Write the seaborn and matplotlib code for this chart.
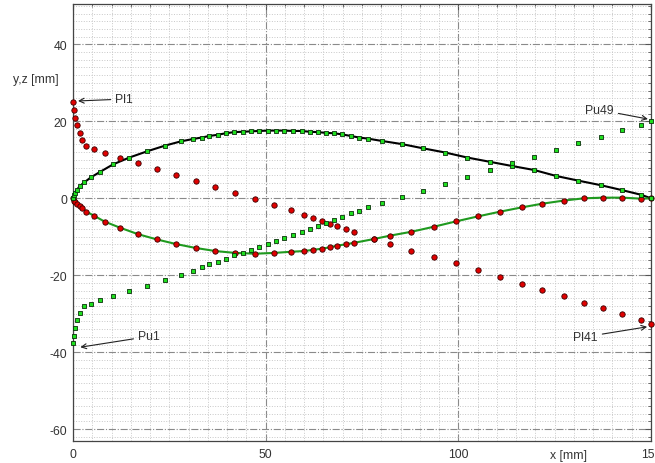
import matplotlib
matplotlib.use("Agg")
import matplotlib.pyplot as plt
import seaborn as sns
import pandas as pd
from matplotlib.ticker import MultipleLocator

# ---------------- data ----------------
pu_x = [0, 0.16, 0.5, 1.03, 1.72, 2.93, 4.66, 7.08, 10.37, 14.5, 19.2, 23.9, 28.0,
        31.1, 33.4, 35.4, 37.5, 39.6, 41.8, 44.1, 46.2, 48.3, 50.6, 52.7, 54.8,
        57.1, 59.3, 61.4, 63.5, 65.7, 67.8, 69.9, 72.1, 74.2, 76.6, 80.2, 85.3,
        90.8, 96.6, 102.3, 108.1, 113.9, 119.7, 125.4, 131.1, 137.0, 142.6, 147.5, 150.0]
pu_curve = [0, 0.86, 1.46, 2.24, 3.1, 4.15, 5.45, 6.9, 8.8, 10.55, 12.2, 13.7, 14.8,
            15.4, 15.8, 16.2, 16.5, 16.9, 17.2, 17.3, 17.4, 17.5, 17.6, 17.6, 17.6,
            17.5, 17.5, 17.3, 17.2, 17.0, 16.9, 16.6, 16.2, 15.8, 15.5, 14.9, 14.1,
            13.0, 11.9, 10.6, 9.5, 8.4, 7.35, 5.8, 4.6, 3.4, 2.1, 0.9, 0.0]
pu_shift = [-37.6, -35.7, -33.6, -31.6, -29.8, -27.9, -27.4, -26.5, -25.3, -24.1, -22.7,
            -21.3, -19.9, -18.9, -17.9, -17.2, -16.5, -15.7, -14.8, -14.1, -13.5, -12.65,
            -11.8, -11.0, -10.3, -9.45, -8.7, -7.9, -7.1, -6.35, -5.6, -4.8, -3.85, -3.3,
            -2.35, -1.2, 0.34, 2.0, 3.6, 5.45, 7.3, 9.1, 10.7, 12.5, 14.3, 16.0, 17.7,
            19.1, 20.0]

pl_x = [0, 0.25, 0.6, 1.05, 1.7, 2.4, 3.45, 5.4, 8.2, 12.1, 16.8, 21.8, 26.8, 31.8,
        36.9, 42.1, 47.3, 52.1, 56.5, 60.0, 62.3, 64.5, 66.6, 68.6, 70.8,
        72.8, 78.0, 82.3, 87.8, 93.6, 99.4, 105.1, 110.7,
        116.5, 121.8, 127.3, 132.6, 137.6, 142.6, 147.5, 150.0]
pl_curve = [0, -0.6, -1.0, -1.5, -2.0, -2.5, -3.45, -4.5, -6.05, -7.6, -9.3, -10.7, -11.9,
            -12.9, -13.7, -14.2, -14.4, -14.2, -13.9, -13.7, -13.4, -13.1, -12.75, -12.3,
            -11.95, -11.6, -10.6, -9.7, -8.7, -7.4, -6.0, -4.7, -3.5,
            -2.35, -1.4, -0.6, 0.0, 0.17, 0.17, -0.1, 0.0]
pl_shift = [24.9, 22.9, 20.9, 19.0, 17.1, 15.2, 13.6, 12.8, 11.85, 10.55, 9.2, 7.6, 6.05,
            4.6, 2.9, 1.3, -0.2, -1.8, -3.1, -4.3, -5.0, -5.8, -6.6, -7.3, -8.1,
            -8.8, -10.6, -11.95, -13.7, -15.3, -16.9, -18.7, -20.5,
            -22.3, -23.9, -25.5, -27.1, -28.6, -30.2, -31.6, -32.6]

labels = ["Pl1", "Pu1", "Pu49", "Pl41"]
x_ticks = [0, 50, 100, 150]
y_ticks = [-60, -40, -20, 0, 20, 40]

# ---------------- style ----------------
sns.set_style("white")
plt.rcParams["font.family"] = ["Liberation Sans", "DejaVu Sans"]
plt.rcParams["axes.unicode_minus"] = False

upper = pd.DataFrame({"x": pu_x, "y": pu_curve})
lower = pd.DataFrame({"x": pl_x, "y": pl_curve})
pu_df = pd.DataFrame({"x": pu_x + pu_x, "y": pu_curve + pu_shift})
pl_df = pd.DataFrame({"x": pl_x + pl_x, "y": pl_curve + pl_shift})

fig = plt.figure(figsize=(6.55, 4.64), dpi=100)
ax = fig.add_axes([73 / 655, 1 - 441.7 / 464, (651 - 73) / 655, (441.7 - 5) / 464])

sns.lineplot(data=upper, x="x", y="y", sort=False, estimator=None, color="black",
             linewidth=1.5, ax=ax, zorder=3)
sns.lineplot(data=lower, x="x", y="y", sort=False, estimator=None, color="#1f9a1f",
             linewidth=1.5, ax=ax, zorder=3)
sns.scatterplot(data=pl_df, x="x", y="y", marker="o", s=15, color="#e00000",
                edgecolor="#3a0000", linewidth=0.6, ax=ax, zorder=4, clip_on=False)
sns.scatterplot(data=pu_df, x="x", y="y", marker="s", s=12, color="#1fe01f",
                edgecolor="#0a300a", linewidth=0.6, ax=ax, zorder=5, clip_on=False)

ax.set_xlim(0, 150)
ax.set_ylim(-63, 50.5)
ax.set_xticks(x_ticks)
ax.set_yticks(y_ticks)
ax.xaxis.set_minor_locator(MultipleLocator(5))
ax.yaxis.set_minor_locator(MultipleLocator(2))
ax.set_xlabel("")
ax.set_ylabel("")

ax.grid(which="major", color="#8a8a8a", linestyle="-.", linewidth=0.8)
ax.grid(which="minor", color="#c8c8c8", linestyle=":", linewidth=0.7)
ax.set_axisbelow(True)

ax.tick_params(which="both", direction="in", top=True, right=True, colors="#555555",
               labelcolor="#333333", labelsize=8.8)
ax.tick_params(which="major", length=4, width=0.8)
ax.tick_params(which="minor", length=2.5, width=0.6)
ax.tick_params(axis="x", pad=5)
ax.tick_params(axis="y", pad=4)
for sp in ax.spines.values():
    sp.set_color("#444444")
    sp.set_linewidth(0.9)

fig.text(13 / 655, 1 - 80 / 464, "y,z [mm]", ha="left", va="center", fontsize=8.8, color="#333333")
fig.text(550 / 655, 1 - 456 / 464, "x [mm]", ha="left", va="center", fontsize=8.8, color="#333333")

arrow = dict(arrowstyle="->", color="#222222", lw=0.8, shrinkA=1, shrinkB=0)
ax.annotate(labels[0], xy=(1.3, 25.3), xytext=(11.0, 25.8), ha="left", va="center",
            fontsize=8.8, color="#333333", arrowprops=arrow)
ax.annotate(labels[1], xy=(1.9, -38.7), xytext=(16.9, -35.9), ha="left", va="center",
            fontsize=8.8, color="#333333", arrowprops=arrow)
ax.annotate(labels[2], xy=(149.2, 20.6), xytext=(132.9, 23.0), ha="left", va="center",
            fontsize=8.8, color="#333333", arrowprops=arrow)
ax.annotate(labels[3], xy=(149.0, -33.4), xytext=(129.8, -36.0), ha="left", va="center",
            fontsize=8.8, color="#333333", arrowprops=arrow)

fig.savefig("out.png", dpi=100)
